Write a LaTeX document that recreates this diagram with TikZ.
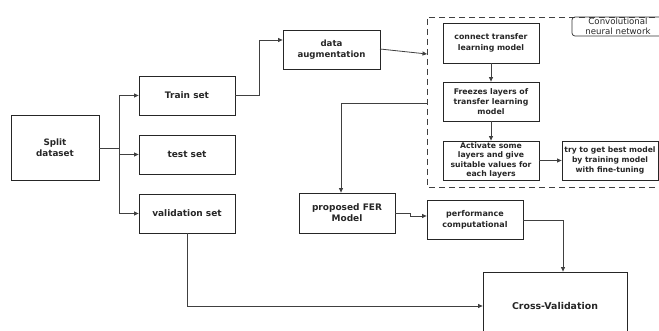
\documentclass[tikz,border=0pt]{standalone}
\usepackage{fontspec}
\setmainfont{DejaVu Sans}
\usetikzlibrary{arrows.meta,calc}
\tikzset{
  box/.style={draw=black!85, line width=0.8pt, minimum width=96pt, minimum height=39pt, align=center, inner sep=1pt, font=\fontsize{7.7}{9.6}\selectfont\bfseries, text=black!85},
  arr/.style={draw=black!75, line width=0.8pt, -{Triangle[length=4.5pt,width=4pt]}},
  ln/.style={draw=black!75, line width=0.8pt},
}
\begin{document}
\begin{tikzpicture}[x=1pt,y=-1pt]
\useasboundingbox (0,0) rectangle (659,331);
\clip (0,0) rectangle (659,331);
% dashed container
\draw[black!75, line width=0.8pt, dash pattern=on 6pt off 4pt] (665,17) -- (427,17) -- (427,187) -- (665,187);
\draw[black!80, line width=0.7pt, rounded corners=3pt] (665,17) -- (572,17) -- (572,36) -- (665,36);
\node[font=\fontsize{8.6}{10}\selectfont, align=center, text=black!85] (cnnlabel) at (618,26.5) {Convolutional\\neural network};
% boxes
\node[box, minimum width=88pt, minimum height=65pt, font=\fontsize{8.8}{11.5}\selectfont\bfseries] (split) at (55,147.5) {Split\\dataset};
\node[box, font=\fontsize{9}{11}\selectfont\bfseries] (train) at (187,95.5) {Train set};
\node[box, font=\fontsize{9}{11}\selectfont\bfseries] (test) at (187,154.5) {test set};
\node[box, font=\fontsize{9}{11}\selectfont\bfseries] (val) at (187,213.5) {validation set};
\node[box, minimum width=97pt, font=\fontsize{8.6}{11}\selectfont\bfseries] (aug) at (331.5,49.5) {data\\augmentation};
\node[box, minimum height=40pt, font=\fontsize{7.8}{10.5}\selectfont\bfseries] (connect) at (491,43) {connect transfer\\learning model};
\node[box, font=\fontsize{7.8}{10}\selectfont\bfseries] (freeze) at (491,101.5) {Freezes layers of\\transfer learning\\model};
\node[box] (activate) at (491,160.5) {Activate some\\layers and give\\suitable values for\\each layers};
\node[box, inner sep=0pt, font=\fontsize{7.6}{10}\selectfont\bfseries] (try) at (610,160.5) {try to get best model\\by training model\\with fine-tuning};
\node[box, minimum height=40pt, font=\fontsize{9}{11}\selectfont\bfseries] (fer) at (347,213) {proposed FER\\Model};
\node[box, font=\fontsize{8}{11}\selectfont\bfseries] (perf) at (475,219.5) {performance\\computational};
\node[box, minimum width=144pt, minimum height=68pt, font=\fontsize{9.4}{11}\selectfont\bfseries] (cross) at (555,306) {Cross-Validation};
% coordinates
\coordinate (br) at (119,148);
\coordinate (cnnin) at (427,54);
\coordinate (cnnout) at (427,103);
\coordinate (augout) at (380,49);
% connectors
\draw[ln] (split.east |- br) -- (br);
\draw[arr] (br) |- (train.west);
\draw[arr] (br) |- (test.west);
\draw[arr] (br) |- (val.west);
\draw[arr] (train.east) -- (259,95.5) -- (259,40) -- (aug.west |- 0,40);
\draw[arr] (augout) -- (cnnin);
\draw[arr] (connect.south) -- (freeze.north);
\draw[arr] (freeze.south) -- (activate.north);
\draw[arr] (activate.east) -- (try.west);
\draw[arr] (cnnout) -| ([xshift=-6pt]fer.north);
\draw[arr] (fer.east) -- (410,213) -- (410,216) -- (perf.west |- 0,216);
\draw[arr] (perf.east |- 0,220) -| (cross.north -| 563,0);
\draw[arr] (val.south) |- (cross.west);
\end{tikzpicture}
\end{document}
